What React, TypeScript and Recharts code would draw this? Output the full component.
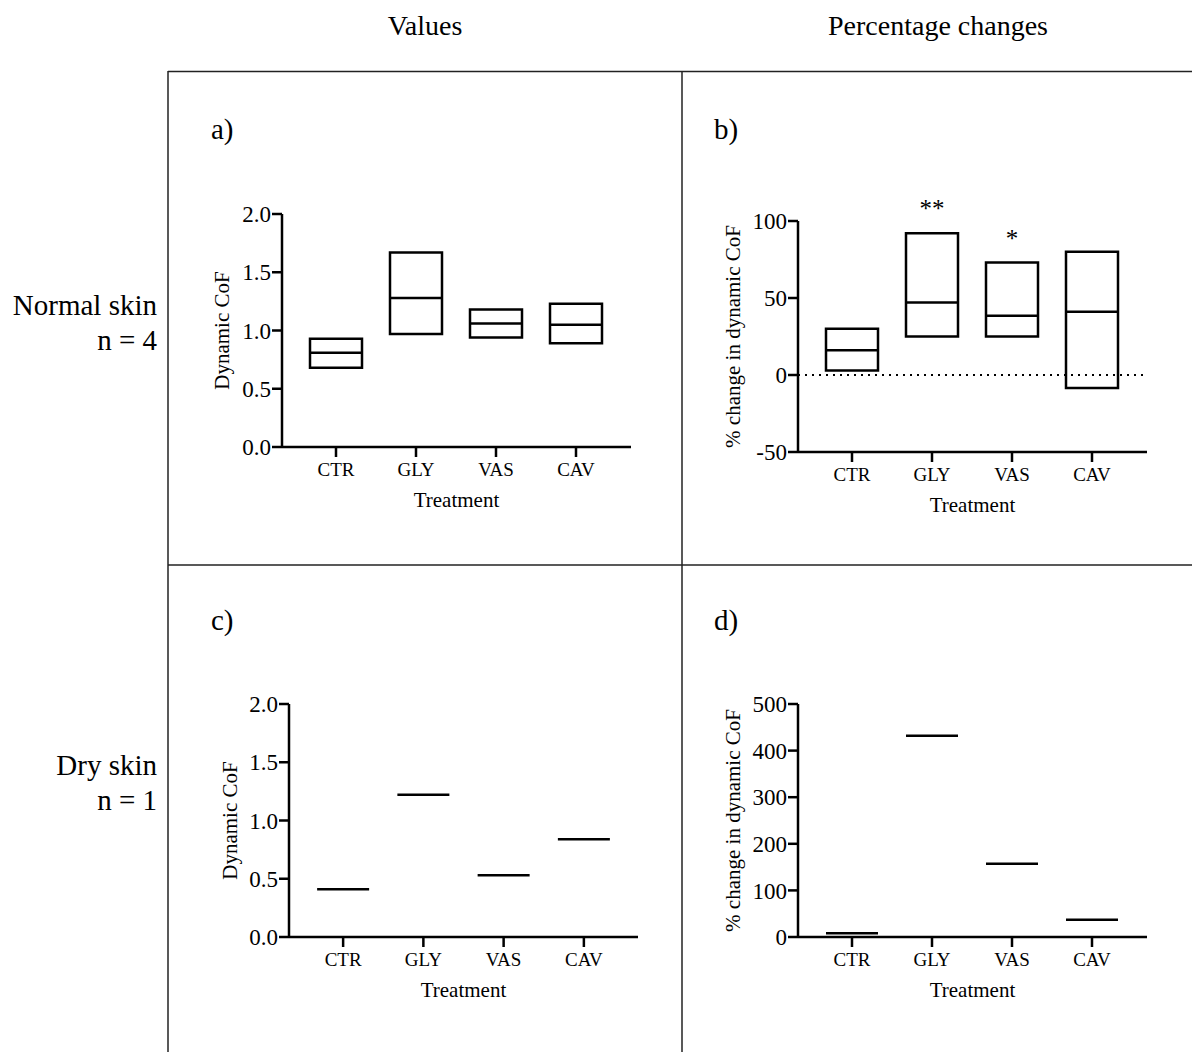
import React from "react"
import {
  ComposedChart,
  Bar,
  Scatter,
  XAxis,
  YAxis,
  ReferenceLine,
  LabelList,
} from "recharts"

const treatments = ["CTR", "GLY", "VAS", "CAV"]

// a) normal skin, dynamic CoF (min / median / max)
const normalMin = [0.68, 0.97, 0.94, 0.89]
const normalMed = [0.81, 1.28, 1.06, 1.05]
const normalMax = [0.93, 1.67, 1.18, 1.23]

// b) normal skin, % change
const pctMin = [3, 25, 25, -8.5]
const pctMed = [16, 47, 38.5, 41]
const pctMax = [30, 92, 73, 80]
const pctSig = ["", "**", "*", ""]

// c) dry skin, dynamic CoF
const dryValues = [0.41, 1.22, 0.53, 0.84]
// d) dry skin, % change
const dryPct = [8, 432, 157, 37]

const valueTicks = [0, 0.5, 1, 1.5, 2]
const pctTicks = [-50, 0, 50, 100]
const dryPctTicks = [0, 100, 200, 300, 400, 500]

const boxRows = (mins: number[], meds: number[], maxs: number[], sig?: string[]) =>
  treatments.map((name, i) => ({
    name,
    range: [mins[i], maxs[i]],
    mid: meds[i],
    sig: sig ? sig[i] : "",
  }))

const lineRows = (vals: number[]) => treatments.map((name, i) => ({ name, mid: vals[i] }))

const normalData = boxRows(normalMin, normalMed, normalMax)
const pctData = boxRows(pctMin, pctMed, pctMax, pctSig)
const dryData = lineRows(dryValues)
const dryPctData = lineRows(dryPct)

const ink = "#000"
const axisStyle = { stroke: ink, strokeWidth: 2.5 }

function MidLine(props: any) {
  const { cx, cy } = props
  if (cx == null || cy == null) return null
  return <line x1={cx - 26} x2={cx + 26} y1={cy} y2={cy} stroke={ink} strokeWidth={2.5} />
}

interface PanelProps {
  left: number
  top: number
  margin: { top: number; right: number; bottom: number; left: number }
  data: any[]
  domain: [number, number]
  ticks: number[]
  fmt: (v: number) => string
  yLabel: string
  yLabelOffset: number
  padding: { left: number; right: number }
  boxes?: boolean
  zeroLine?: boolean
}

function Panel({
  left,
  top,
  margin,
  data,
  domain,
  ticks,
  fmt,
  yLabel,
  yLabelOffset,
  padding,
  boxes,
  zeroLine,
}: PanelProps) {
  return (
    <div style={{ position: "absolute", left, top }}>
      <ComposedChart width={480} height={340} data={data} margin={margin}>
        <XAxis
          dataKey="name"
          type="category"
          scale="band"
          padding={padding}
          height={60}
          interval={0}
          tickSize={10}
          tickMargin={6}
          axisLine={axisStyle}
          tickLine={axisStyle}
          tick={{ fill: ink, fontSize: 19 }}
          label={{
            value: "Treatment",
            position: "insideBottom",
            offset: 0,
            style: { fill: ink, fontSize: 21 },
          }}
        />
        <YAxis
          type="number"
          domain={domain}
          ticks={ticks}
          interval={0}
          width={80}
          tickSize={10}
          tickMargin={1}
          tickFormatter={fmt}
          axisLine={axisStyle}
          tickLine={axisStyle}
          tick={{ fill: ink, fontSize: 23 }}
          label={{
            value: yLabel,
            angle: -90,
            position: "insideLeft",
            offset: yLabelOffset,
            style: { fill: ink, fontSize: 21, textAnchor: "middle" },
          }}
        />
        {zeroLine && (
          <ReferenceLine y={0} stroke={ink} strokeWidth={2} strokeDasharray="2 5" />
        )}
        {boxes && (
          <Bar
            dataKey="range"
            barSize={52}
            fill="none"
            stroke={ink}
            strokeWidth={2.5}
            isAnimationActive={false}
          >
            <LabelList dataKey="sig" position="top" offset={16} fill={ink} fontSize={25} />
          </Bar>
        )}
        <Scatter dataKey="mid" shape={<MidLine />} isAnimationActive={false} />
      </ComposedChart>
    </div>
  )
}

const serif = '"Liberation Serif", "Times New Roman", serif'

export default function App() {
  return (
    <div
      style={{
        position: "absolute",
        left: 0,
        top: 0,
        width: 1192,
        height: 1052,
        background: "#fff",
        fontFamily: serif,
        overflow: "hidden",
      }}
    >
      <svg width={1192} height={1052} style={{ position: "absolute", left: 0, top: 0 }}>
        <g stroke="#222" strokeWidth={1.5}>
          <line x1={168} y1={71.5} x2={1192} y2={71.5} />
          <line x1={168} y1={71} x2={168} y2={1052} />
          <line x1={682} y1={71} x2={682} y2={1052} />
          <line x1={168} y1={565} x2={1192} y2={565} />
        </g>
        <g fill={ink} fontFamily={serif}>
          <text x={425} y={35} fontSize={28} textAnchor="middle">Values</text>
          <text x={938} y={35} fontSize={28} textAnchor="middle">Percentage changes</text>
          <text x={157} y={315} fontSize={29} textAnchor="end">Normal skin</text>
          <text x={157} y={350} fontSize={29} textAnchor="end">n = 4</text>
          <text x={157} y={775} fontSize={29} textAnchor="end">Dry skin</text>
          <text x={157} y={810} fontSize={29} textAnchor="end">n = 1</text>
          <text x={211} y={139} fontSize={29}>a)</text>
          <text x={714} y={139} fontSize={29}>b)</text>
          <text x={211} y={630} fontSize={29}>c)</text>
          <text x={714} y={630} fontSize={29}>d)</text>
        </g>
      </svg>

      <Panel
        left={170}
        top={190}
        margin={{ top: 24, right: 19, bottom: 23, left: 32 }}
        data={normalData}
        domain={[0, 2]}
        ticks={valueTicks}
        fmt={(v) => v.toFixed(1)}
        yLabel="Dynamic CoF"
        yLabelOffset={20}
        padding={{ left: 14, right: 15 }}
        boxes
      />
      <Panel
        left={690}
        top={190}
        margin={{ top: 31, right: 23, bottom: 18, left: 28 }}
        data={pctData}
        domain={[-50, 100]}
        ticks={pctTicks}
        fmt={(v) => String(v)}
        yLabel="% change in dynamic CoF"
        yLabelOffset={15}
        padding={{ left: 14, right: 15 }}
        boxes
        zeroLine
      />
      <Panel
        left={180}
        top={680}
        margin={{ top: 24, right: 22, bottom: 23, left: 29 }}
        data={dryData}
        domain={[0, 2]}
        ticks={valueTicks}
        fmt={(v) => v.toFixed(1)}
        yLabel="Dynamic CoF"
        yLabelOffset={21}
        padding={{ left: 14, right: 14 }}
      />
      <Panel
        left={690}
        top={680}
        margin={{ top: 24, right: 23, bottom: 23, left: 28 }}
        data={dryPctData}
        domain={[0, 500]}
        ticks={dryPctTicks}
        fmt={(v) => String(v)}
        yLabel="% change in dynamic CoF"
        yLabelOffset={15}
        padding={{ left: 14, right: 15 }}
      />
    </div>
  )
}
